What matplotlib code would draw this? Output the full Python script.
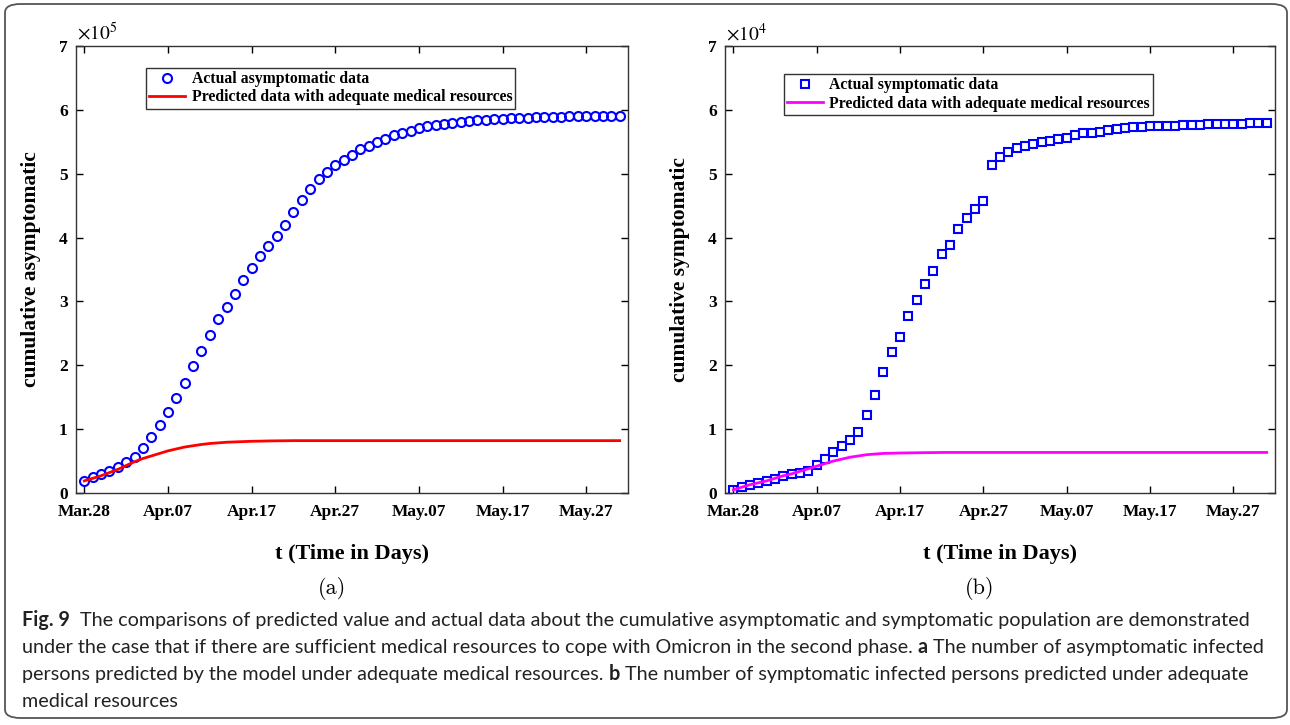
import matplotlib
matplotlib.use("Agg")
import matplotlib.pyplot as plt
from matplotlib.patches import FancyBboxPatch

# ------------------ DATOS ------------------
# dias desde Mar.28 (0..64)
dias = list(range(65))
tick_pos = [0, 10, 20, 30, 40, 50, 60]
tick_lbl = ["Mar.28", "Apr.07", "Apr.17", "Apr.27", "May.07", "May.17", "May.27"]

# asintomaticos acumulados (x 1e5)
asint_real = [0.19, 0.25, 0.30, 0.35, 0.40, 0.48, 0.57, 0.70, 0.87, 1.07,
              1.27, 1.49, 1.73, 1.99, 2.22, 2.47, 2.72, 2.92, 3.12, 3.33,
              3.53, 3.71, 3.87, 4.03, 4.19, 4.40, 4.59, 4.76, 4.91, 5.03,
              5.13, 5.21, 5.30, 5.38, 5.44, 5.50, 5.55, 5.60, 5.63, 5.67,
              5.71, 5.74, 5.77, 5.78, 5.80, 5.81, 5.83, 5.84, 5.845, 5.85,
              5.86, 5.87, 5.875, 5.88, 5.885, 5.89, 5.89, 5.895, 5.90, 5.90,
              5.90, 5.905, 5.905, 5.91, 5.91]
asint_pred = [0.19, 0.23, 0.27, 0.32, 0.37, 0.43, 0.49, 0.54, 0.58, 0.62,
              0.66, 0.69, 0.72, 0.74, 0.76, 0.775, 0.785, 0.795, 0.80, 0.805,
              0.81, 0.812, 0.815, 0.817, 0.818, 0.82, 0.82, 0.82, 0.82, 0.82,
              0.82, 0.82, 0.82, 0.82, 0.82, 0.82, 0.82, 0.82, 0.82, 0.82,
              0.82, 0.82, 0.82, 0.82, 0.82, 0.82, 0.82, 0.82, 0.82, 0.82,
              0.82, 0.82, 0.82, 0.82, 0.82, 0.82, 0.82, 0.82, 0.82, 0.82,
              0.82, 0.82, 0.82, 0.82, 0.82]

# sintomaticos acumulados (x 1e4)
sint_real = [0.05, 0.09, 0.13, 0.16, 0.185, 0.215, 0.265, 0.295, 0.32, 0.35,
             0.435, 0.54, 0.64, 0.74, 0.83, 0.955, 1.215, 1.53, 1.89, 2.21,
             2.45, 2.77, 3.02, 3.275, 3.47, 3.74, 3.88, 4.13, 4.30, 4.45,
             4.58, 5.13, 5.26, 5.34, 5.41, 5.44, 5.47, 5.50, 5.52, 5.54,
             5.56, 5.60, 5.63, 5.645, 5.66, 5.68, 5.70, 5.715, 5.725, 5.73,
             5.74, 5.745, 5.75, 5.755, 5.76, 5.765, 5.77, 5.775, 5.78, 5.78,
             5.785, 5.785, 5.79, 5.79, 5.79]
sint_pred = [0.05, 0.09, 0.13, 0.16, 0.19, 0.23, 0.27, 0.30, 0.34, 0.38,
             0.42, 0.46, 0.50, 0.53, 0.56, 0.58, 0.60, 0.61, 0.62, 0.623,
             0.626, 0.628, 0.63, 0.632, 0.633, 0.635, 0.635, 0.635, 0.635, 0.635,
             0.635, 0.635, 0.635, 0.635, 0.635, 0.635, 0.635, 0.635, 0.635, 0.635,
             0.635, 0.635, 0.635, 0.635, 0.635, 0.635, 0.635, 0.635, 0.635, 0.635,
             0.635, 0.635, 0.635, 0.635, 0.635, 0.635, 0.635, 0.635, 0.635, 0.635,
             0.635, 0.635, 0.635, 0.635, 0.635]

plt.rcParams["font.family"] = ["Liberation Serif", "DejaVu Serif"]
plt.rcParams["mathtext.fontset"] = "stix"

fig = plt.figure(figsize=(12.9, 7.25), dpi=100)

# marco redondeado de la figura
marco = FancyBboxPatch((5 / 1290, 7 / 725), 1282 / 1290, 714 / 725,
                       boxstyle="round,pad=0,rounding_size=0.012",
                       transform=fig.transFigure, fill=False,
                       edgecolor="#555555", linewidth=1.3, clip_on=False)
fig.patches.append(marco)


def panel(rect, real, pred, marker, color_pred, lbl_real, ylab, exp, leg_pos, letra, letra_x):
    ax = fig.add_axes(rect)
    ax.plot(dias, real, linestyle="none", marker=marker, markersize=6.5 if marker == "o" else 5.8,
            markerfacecolor="none", markeredgecolor="#0000FF", markeredgewidth=1.5, label=lbl_real)
    ax.plot(dias, pred, color=color_pred, linewidth=2.0,
            label="Predicted data with adequate medical resources")
    ax.set_xlim(-1, 65)
    ax.set_ylim(0, 7)
    ax.set_yticks(range(8))
    ax.set_xticks(tick_pos)
    ax.set_xticklabels(tick_lbl)
    ax.tick_params(direction="in", top=True, right=True, length=5, width=1,
                   labelsize=12.5, colors="#000000")
    ax.tick_params(axis="x", pad=8)
    ax.tick_params(axis="y", pad=6)
    for lab in ax.get_xticklabels() + ax.get_yticklabels():
        lab.set_fontweight("bold")
    for s in ax.spines.values():
        s.set_color("#333333")
        s.set_linewidth(1.0)
    ax.set_xlabel("t (Time in Days)", fontsize=16, fontweight="bold", labelpad=17)
    ax.set_ylabel(ylab, fontsize=15.5, fontweight="bold", labelpad=13)
    ax.text(0.002, 1.004, r"$\times10^{%d}$" % exp, transform=ax.transAxes,
            ha="left", va="bottom", fontsize=14)
    leg = ax.legend(loc="upper left", bbox_to_anchor=leg_pos, frameon=True, fancybox=False,
                    edgecolor="#000000", prop={"weight": "bold", "size": 11.3},
                    handlelength=2.3, handletextpad=0.4, borderpad=0.2,
                    labelspacing=0.15, borderaxespad=0)
    leg.get_frame().set_linewidth(1.0)
    fig.text(letra_x, 1 - 588 / 725, letra, family="cmr10", fontsize=16,
             ha="center", va="center")
    return ax


panel([76 / 1290, 1 - 493 / 725, 552 / 1290, 447 / 725], asint_real, asint_pred, "o",
      "#FF0000", "Actual asymptomatic data", "cumulative asymptomatic", 5,
      (0.127, 0.951), "(a)", 332 / 1290)
panel([725 / 1290, 1 - 493 / 725, 550 / 1290, 447 / 725], sint_real, sint_pred, "s",
      "#FF00FF", "Actual symptomatic data", "cumulative symptomatic", 4,
      (0.107, 0.937), "(b)", 980 / 1290)

# ------------------ PIE DE FIGURA ------------------
cap_font = "Lato"
cap_size = 14.2
lineas = [
    [("Fig. 9", "bold"), ("  The comparisons of predicted value and actual data about the cumulative "
                          "asymptomatic and symptomatic population are demonstrated", "normal")],
    [("under the case that if there are sufficient medical resources to cope with Omicron in the "
      "second phase. ", "normal"), ("a", "bold"),
     (" The number of asymptomatic infected", "normal")],
    [("persons predicted by the model under adequate medical resources. ", "normal"), ("b", "bold"),
     (" The number of symptomatic infected persons predicted under adequate", "normal")],
    [("medical resources", "normal")],
]
base_y = [626, 653, 680, 707]
for piezas, yb in zip(lineas, base_y):
    y = 1 - yb / 725
    prev = None
    for txt, peso in piezas:
        if prev is None:
            prev = fig.text(22 / 1290, y, txt, family=cap_font, fontsize=cap_size,
                            fontweight=peso, va="baseline", ha="left", color="#222222")
        else:
            prev = fig.add_artist(plt.Annotation(txt, xy=(1, y), xycoords=(prev, fig.transFigure),
                                                 family=cap_font, fontsize=cap_size, fontweight=peso,
                                                 va="baseline", ha="left", color="#222222"))

fig.savefig("out.png", dpi=100)
